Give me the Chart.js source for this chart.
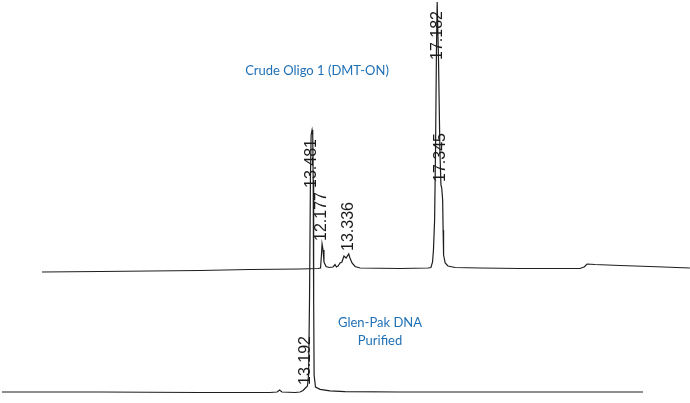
<!DOCTYPE html>
<html>
<head>
<meta charset="utf-8">
<script src="https://cdn.jsdelivr.net/npm/chart.js@4/dist/chart.umd.min.js"></script>
<style>
  html, body { margin: 0; padding: 0; background: #fff; }
  canvas { display: block; }
</style>
</head>
<body>
<canvas id="chroma" width="690" height="403"></canvas>
<script>
// Crude oligo trace (retention time in min, signal in mAU)
const crudeTime = [0, 2.52, 4.70, 6.87, 9.04, 11.22, 12.00, 12.11, 12.15, 12.177, 12.22, 12.26, 12.35, 12.48,
  12.65, 12.74, 12.80, 12.87, 12.96, 13.04, 13.13, 13.22, 13.336, 13.39, 13.48, 13.61, 13.83, 15.57,
  16.78, 16.91, 16.98, 17.02, 17.07, 17.11, 17.15, 17.182, 17.24, 17.30, 17.345, 17.38, 17.42, 17.44,
  17.46, 17.53, 17.65, 17.96, 19.04, 20.78, 23.39, 23.57, 23.70, 24.04, 25.13, 26.43, 28.17];
const crudeSignal = [0, 0.5, 1, 1.5, 2.5, 3, 3.5, 4, 17, 28, 22, 10, 5.5, 4.5,
  5, 7.5, 5, 6, 9, 10, 16, 14, 18, 14, 9, 5.5, 4, 3.5,
  4, 4.5, 10, 22, 52, 122, 222, 270, 212, 122, 87, 84, 72, 42,
  17, 9, 6, 4.5, 4, 3.5, 3.5, 5, 8, 7.5, 6.5, 5.5, 4];

// Glen-Pak purified trace
const pureTime = [0, 4.26, 8.61, 11.65, 11.96, 12.07, 12.17, 12.74, 12.96, 13.09, 13.192, 13.28, 13.33,
  13.37, 13.41, 13.44, 13.481, 13.51, 13.53, 13.55, 13.57, 13.63, 13.83, 14.26, 14.91, 17.30, 21.65, 27.87];
const pureSignal = [0, 0, -0.5, -0.5, 0, 2, 0, -0.5, 0, 1.5, 4, 6, 17,
  92, 212, 257, 262, 257, 212, 92, 17, 5, 2.7, 1.2, 0.3, 0, 0, 0];

// peak labels (retention times)
const crudePeaks = ["12.177", "13.336", "17.182", "17.345"];
const purePeaks = ["13.481", "13.192"];

const traceNames = ["Crude Oligo 1 (DMT-ON)", "Glen-Pak DNA\nPurified"];

function toPoints(xs, ys) {
  return xs.map((x, i) => ({ x: x, y: ys[i] }));
}

// draws retention time labels vertically next to their peaks
const peakLabels = {
  id: "peakLabels",
  afterDatasetsDraw(chart) {
    const ctx = chart.ctx;
    const sets = [crudePeaks, purePeaks];
    ctx.save();
    ctx.fillStyle = "#1a1a1a";
    ctx.font = "16px 'Liberation Sans', Arial, sans-serif";
    ctx.textBaseline = "middle";
    sets.forEach((peaks, di) => {
      const ds = chart.data.datasets[di];
      const xs = chart.scales[ds.xAxisID];
      const ys = chart.scales[ds.yAxisID];
      peaks.forEach(label => {
        const t = parseFloat(label);
        let best = ds.data[0];
        ds.data.forEach(p => { if (Math.abs(p.x - t) < Math.abs(best.x - t)) best = p; });
        const px = xs.getPixelForValue(t);
        const py = Math.max(ys.getPixelForValue(best.y), chart.chartArea.top);
        ctx.save();
        if (best.y > 150) {
          // tall peak: label hangs below apex, over the line
          ctx.translate(px, py + 9);
          ctx.rotate(-Math.PI / 2);
          ctx.textAlign = "right";
        } else {
          ctx.translate(px, py - 3);
          ctx.rotate(-Math.PI / 2);
          ctx.textAlign = "left";
        }
        ctx.fillText(label, 0, 0);
        ctx.restore();
      });
    });

    // trace names
    ctx.fillStyle = "#1f70b5";
    ctx.font = "13px Lato, 'Open Sans', sans-serif";
    ctx.textAlign = "center";
    ctx.textBaseline = "alphabetic";
    ctx.fillText(traceNames[0], 317, 75);
    traceNames[1].split("\n").forEach((line, i) => {
      ctx.fillText(line, 380, 327 + i * 18);
    });
    ctx.restore();
  }
};

new Chart(document.getElementById("chroma"), {
  type: "line",
  data: {
    datasets: [
      {
        label: "Crude",
        data: toPoints(crudeTime, crudeSignal),
        xAxisID: "x1",
        yAxisID: "y1",
        borderColor: "#1e1e1e",
        borderWidth: 1.2,
        pointRadius: 0,
        tension: 0
      },
      {
        label: "Purified",
        data: toPoints(pureTime, pureSignal),
        xAxisID: "x2",
        yAxisID: "y2",
        borderColor: "#1e1e1e",
        borderWidth: 1.2,
        pointRadius: 0,
        tension: 0
      }
    ]
  },
  options: {
    responsive: false,
    animation: false,
    layout: { padding: 0 },
    plugins: { legend: { display: false }, tooltip: { enabled: false } },
    scales: {
      x1: { type: "linear", display: false, min: -1.826, max: 28.174 },
      x2: { type: "linear", display: false, min: -0.087, max: 29.913 },
      y1: { type: "linear", display: false, min: -131, max: 272 },
      y2: { type: "linear", display: false, min: -11, max: 392 }
    }
  },
  plugins: [peakLabels]
});
</script>
</body>
</html>
